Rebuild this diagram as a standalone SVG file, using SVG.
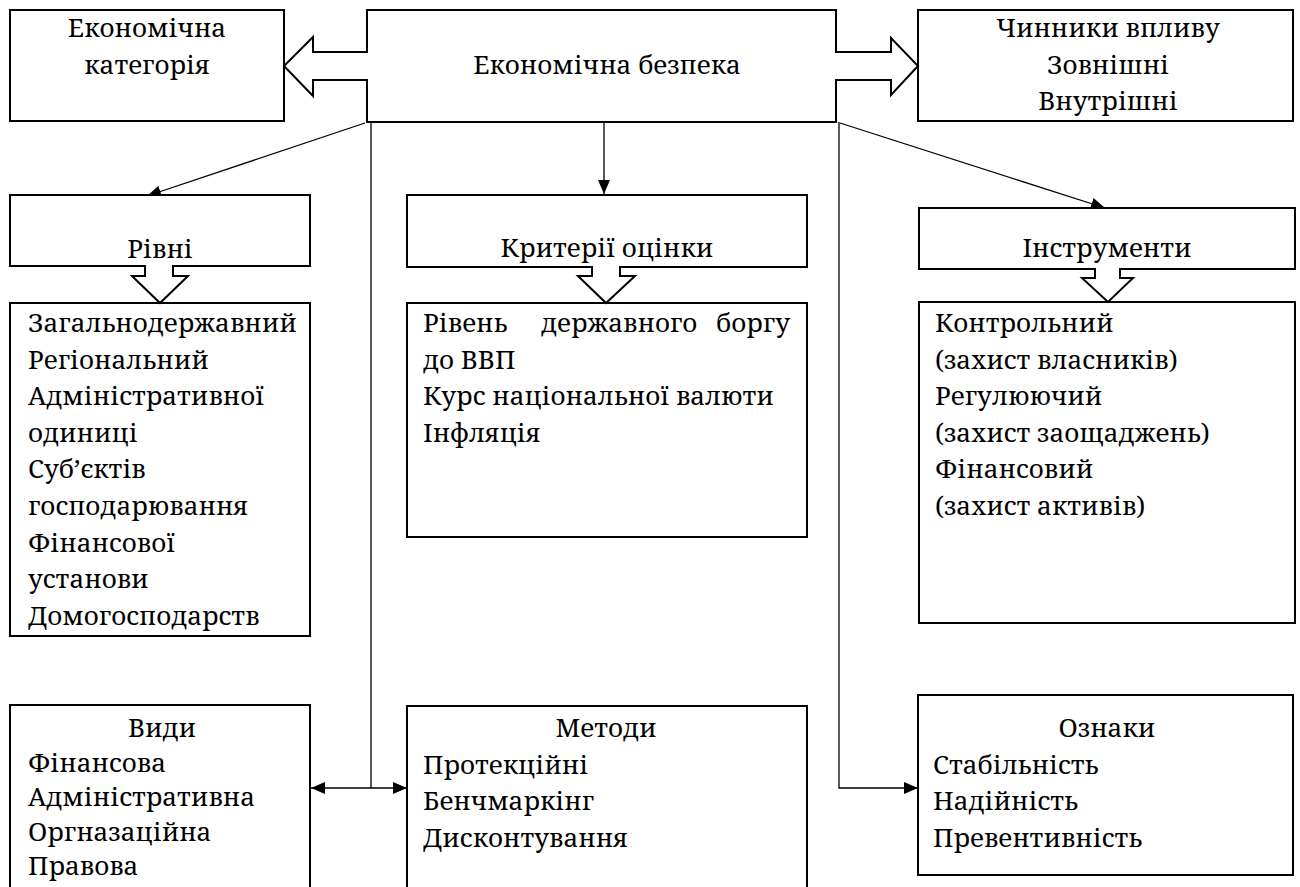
<svg xmlns="http://www.w3.org/2000/svg" width="1300" height="887" viewBox="0 0 1300 887">
<style>
.box{fill:#fff;stroke:#000;stroke-width:2}
.blk{fill:#fff;stroke:#000;stroke-width:2;stroke-linejoin:miter}
.ln{fill:none;stroke:#000;stroke-width:1.3}
.c{text-anchor:middle}
</style>
<defs>
<marker id="ah" markerUnits="userSpaceOnUse" markerWidth="14" markerHeight="12" refX="14" refY="6" orient="auto-start-reverse">
<path d="M0,0 L14,6 L0,12 Z" fill="#000"/>
</marker>
</defs>
<rect width="1300" height="887" fill="#fff"/>

<g id="connectors">
<line class="ln" x1="365" y1="123" x2="147" y2="196" marker-end="url(#ah)"/>
<line class="ln" x1="604" y1="122" x2="604" y2="194" marker-end="url(#ah)"/>
<line class="ln" x1="840" y1="123" x2="1105" y2="208" marker-end="url(#ah)"/>
<line class="ln" x1="371" y1="122" x2="371" y2="788"/>
<line class="ln" x1="311" y1="788" x2="407" y2="788" marker-start="url(#ah)" marker-end="url(#ah)"/>
<polyline class="ln" points="839,122 839,788 918,788" marker-end="url(#ah)"/>
</g>

<g font-family="'Noto Serif', 'DejaVu Serif', serif" font-size="26" fill="#000">
<g id="n-cat">
<rect class="box" x="10" y="10" width="274" height="111"/>
<text class="c" x="147" y="37">Економічна</text>
<text class="c" x="147" y="74">категорія</text>
</g>

<g id="n-factors">
<rect class="box" x="918" y="10" width="375" height="111"/>
<text class="c" x="1108" y="37">Чинники впливу</text>
<text class="c" x="1108" y="73.6">Зовнішні</text>
<text class="c" x="1108" y="110">Внутрішні</text>
</g>

<g id="n-main">
<path class="blk" d="M367,10 H836 V52 H891 V38 L918,66 L891,95 V80 H836 V122 H367 V80 H313 V96 L284,66 L313,37 V52 H367 Z"/>
<text class="c" x="607" y="74">Економічна безпека</text>
</g>

<g id="n-levels">
<rect class="box" x="10" y="195" width="300" height="71"/>
<text class="c" x="160" y="258">Рівні</text>
<rect class="box" x="10" y="303" width="300" height="333"/>
<path class="blk" d="M145,265 V276 H132 L160,303 L188,276 H173 V265"/>
<text x="28" y="332">Загальнодержавний</text>
<text x="28" y="368.6">Регіональний</text>
<text x="28" y="405.2">Адміністративної</text>
<text x="28" y="441.8">одиниці</text>
<text x="28" y="478.4">Суб’єктів</text>
<text x="28" y="515">господарювання</text>
<text x="28" y="551.6">Фінансової</text>
<text x="28" y="588.2">установи</text>
<text x="28" y="624.8">Домогосподарств</text>
</g>

<g id="n-criteria">
<rect class="box" x="407" y="195" width="400" height="72"/>
<text class="c" x="607" y="257">Критерії оцінки</text>
<rect class="box" x="407" y="303" width="400" height="234"/>
<path class="blk" d="M592,266 V276 H578 L606,303 L635,276 H620 V266"/>
<text x="423" y="332">Рівень</text>
<text x="541" y="332">державного</text>
<text x="790" y="332" text-anchor="end">боргу</text>
<text x="423" y="368.6">до ВВП</text>
<text x="423" y="405.2">Курс національної валюти</text>
<text x="423" y="441.8">Інфляція</text>
</g>

<g id="n-tools">
<rect class="box" x="919" y="208" width="376" height="61"/>
<text class="c" x="1107" y="257">Інструменти</text>
<rect class="box" x="919" y="302" width="376" height="321"/>
<path class="blk" d="M1095,268 V278 H1082 L1108,302 L1133,278 H1120 V268"/>
<text x="935" y="332">Контрольний</text>
<text x="935" y="368.6">(захист власників)</text>
<text x="935" y="405.2">Регулюючий</text>
<text x="935" y="441.8">(захист заощаджень)</text>
<text x="935" y="478.4">Фінансовий</text>
<text x="935" y="515">(захист активів)</text>
</g>

<g id="n-types">
<rect class="box" x="10" y="705" width="300" height="200"/>
<text class="c" x="162" y="737">Види</text>
<text x="28" y="771.5">Фінансова</text>
<text x="28" y="806">Адміністративна</text>
<text x="28" y="840.5">Оргназаційна</text>
<text x="28" y="875">Правова</text>
</g>

<g id="n-methods">
<rect class="box" x="407" y="706" width="400" height="200"/>
<text class="c" x="606" y="737">Методи</text>
<text x="423" y="773.6">Протекційні</text>
<text x="423" y="810.2">Бенчмаркінг</text>
<text x="423" y="846.8">Дисконтування</text>
</g>

<g id="n-signs">
<rect class="box" x="918" y="695" width="375" height="180"/>
<text class="c" x="1107" y="737">Ознаки</text>
<text x="933" y="773.6">Стабільність</text>
<text x="933" y="810.2">Надійність</text>
<text x="933" y="846.8">Превентивність</text>
</g>
</g>
</svg>
